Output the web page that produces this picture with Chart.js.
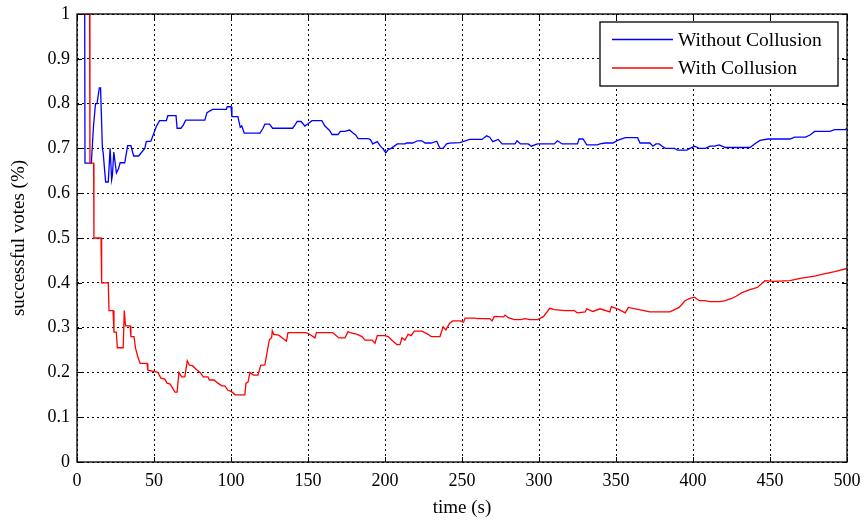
<!DOCTYPE html>
<html>
<head>
<meta charset="utf-8">
<script src="https://cdn.jsdelivr.net/npm/chart.js@4/dist/chart.umd.min.js"></script>
<style>
  html, body { margin: 0; padding: 0; background: #ffffff; }
  #wrap { width: 865px; height: 523px; }
</style>
</head>
<body>
<div id="wrap"><canvas id="c" width="865" height="523"></canvas></div>
<script>
const seriesNames = ['Without Collusion', 'With Collusion'];

const xTickLabels = ['0','50','100','150','200','250','300','350','400','450','500'];
const yTickLabels = ['0','0.1','0.2','0.3','0.4','0.5','0.6','0.7','0.8','0.9','1'];

const blueTime = [3,5.0,5.2,9.3,10.7,12,13,14.5,15.3,16.5,17,18.6,20.3,21.5,22.5,23,23.9,25.6,27,28,31,32.9,35,36.8,40,44,45,48,51.5,53.6,58,59,64.3,65,67.5,69,70.6,83,84.4,88,97,97.5,100,100.6,104.5,106,107,108.6,118.8,120.8,122,125,127,140,141.5,143,145.5,148,150,152.6,159,161,164,165.6,169.5,171,174,177,179,181,182.5,189,190.5,192,195,197,199,200.5,202,204,208,213,214,218,221,224,226,230,233.6,235.7,237.7,240,242,248.7,255,263,266,268,270,273.5,276,284.5,285.7,288,293,295,299,310,312,315,325,326,328.6,331,338,339.6,343,348,351,356,364,365.6,372,374,376,378,380,382,388,390,396,398,401,404,408,411,414,417,421,437,440,443.5,448.7,463,466,473,476,479,489,492,499,500];
const blueValue = [1,1,0.667,0.667,0.749,0.8,0.8,0.835,0.835,0.70,0.69,0.625,0.625,0.70,0.63,0.64,0.692,0.645,0.655,0.668,0.668,0.706,0.706,0.683,0.683,0.70,0.715,0.716,0.749,0.762,0.762,0.773,0.773,0.745,0.745,0.752,0.763,0.763,0.78,0.787,0.787,0.793,0.793,0.771,0.771,0.747,0.75,0.734,0.734,0.745,0.754,0.754,0.745,0.745,0.752,0.76,0.76,0.75,0.755,0.762,0.762,0.75,0.74,0.731,0.731,0.738,0.738,0.741,0.735,0.73,0.722,0.722,0.72,0.71,0.715,0.705,0.698,0.69,0.697,0.70,0.71,0.71,0.712,0.712,0.717,0.717,0.712,0.712,0.716,0.70,0.70,0.71,0.712,0.713,0.72,0.72,0.728,0.725,0.715,0.72,0.71,0.71,0.717,0.71,0.71,0.705,0.71,0.71,0.717,0.71,0.71,0.721,0.721,0.708,0.708,0.71,0.712,0.712,0.718,0.724,0.724,0.712,0.712,0.705,0.71,0.71,0.705,0.70,0.70,0.696,0.696,0.70,0.705,0.70,0.70,0.705,0.705,0.708,0.702,0.702,0.71,0.718,0.721,0.721,0.725,0.725,0.73,0.738,0.738,0.742,0.742,0.745];

const redTime = [3,8.2,8.4,10.8,11,15.6,16,20.3,20.8,23.4,24,25.5,26.2,30,30.7,31.5,34.5,35,37,38,39.5,41,45.5,46,52.6,54.5,57,58.5,60.5,61.7,63.6,65,66.2,68,70,71.6,73,75,77.7,79.9,82,85,86,89,91.5,94,96,98,100.4,102.6,109,109.7,111,112.3,114.5,117.5,119.3,122,124.9,126.4,126.8,127.7,131,134,136,137,148.7,151,154.5,155.5,166,168,170,174,176,178,182,185,187,191.6,193.5,195,200,202,204.5,207.8,209.7,211,213,215,217,219,224,228,230,235.7,237.7,239.5,242,244,249,251,252,258,260,268,269.5,271,277,278,280,284,288,291,294,299,300.5,303,307,310,317,323,324.7,330,331,335,339.6,346,347,352,356,358,365,372,385,388,391,394.8,398,401,404,407.8,411,417.5,421,425,428,431.8,437,442,446.8,452,463,469.5,479,485,492,500];
const redValue = [1,1,0.667,0.667,0.5,0.5,0.4,0.4,0.338,0.338,0.29,0.29,0.255,0.255,0.338,0.304,0.304,0.28,0.28,0.254,0.235,0.22,0.22,0.205,0.2,0.187,0.185,0.176,0.174,0.167,0.156,0.156,0.2,0.19,0.19,0.226,0.216,0.215,0.206,0.2,0.19,0.19,0.183,0.183,0.176,0.17,0.17,0.16,0.157,0.15,0.15,0.176,0.178,0.2,0.194,0.194,0.216,0.217,0.273,0.278,0.293,0.285,0.283,0.275,0.27,0.289,0.289,0.285,0.277,0.289,0.289,0.283,0.277,0.277,0.291,0.288,0.285,0.28,0.272,0.272,0.265,0.282,0.282,0.28,0.272,0.262,0.262,0.277,0.272,0.285,0.282,0.292,0.292,0.285,0.28,0.28,0.302,0.295,0.31,0.315,0.315,0.312,0.321,0.321,0.32,0.32,0.315,0.325,0.324,0.328,0.322,0.318,0.318,0.32,0.318,0.318,0.32,0.325,0.343,0.34,0.338,0.338,0.333,0.335,0.342,0.336,0.342,0.335,0.347,0.34,0.333,0.345,0.34,0.335,0.335,0.34,0.345,0.36,0.365,0.368,0.36,0.36,0.358,0.358,0.36,0.365,0.37,0.378,0.385,0.39,0.405,0.403,0.405,0.41,0.415,0.42,0.425,0.432];

const FONT = 'Liberation Serif, Times New Roman, serif';

function toPoints(ts, vs) { return ts.map((t, i) => ({ x: t, y: vs[i] })); }

const framePlugin = {
  id: 'frame',
  afterDatasetsDraw(chart) {
    const { ctx, chartArea: a, scales } = chart;
    ctx.save();
    ctx.strokeStyle = '#000';
    ctx.lineWidth = 1.3;
    ctx.setLineDash([]);
    ctx.strokeRect(a.left, a.top, a.right - a.left, a.bottom - a.top);
    const tl = 5;
    ctx.lineWidth = 1;
    ctx.beginPath();
    scales.x.ticks.forEach(tk => {
      const px = Math.round(scales.x.getPixelForValue(tk.value)) + 0.5;
      ctx.moveTo(px, a.bottom); ctx.lineTo(px, a.bottom - tl);
      ctx.moveTo(px, a.top); ctx.lineTo(px, a.top + tl);
    });
    scales.y.ticks.forEach(tk => {
      const py = Math.round(scales.y.getPixelForValue(tk.value)) + 0.5;
      ctx.moveTo(a.left, py); ctx.lineTo(a.left + tl, py);
      ctx.moveTo(a.right, py); ctx.lineTo(a.right - tl, py);
    });
    ctx.stroke();

    const w = 238, h = 64;
    const bx = a.right - 9 - w, by = a.top + 8;
    ctx.fillStyle = '#fff';
    ctx.fillRect(bx, by, w, h);
    ctx.lineWidth = 1.3;
    ctx.strokeStyle = '#000';
    ctx.strokeRect(bx, by, w, h);
    ctx.font = '19.5px ' + FONT;
    ctx.textBaseline = 'middle';
    ctx.textAlign = 'left';
    chart.data.datasets.forEach((ds, i) => {
      const ly = by + 17.5 + i * 28.5;
      ctx.strokeStyle = ds.borderColor;
      ctx.lineWidth = 1.3;
      ctx.beginPath();
      ctx.moveTo(bx + 12, ly); ctx.lineTo(bx + 73, ly);
      ctx.stroke();
      ctx.fillStyle = '#000';
      ctx.fillText(ds.label, bx + 78, ly + 1);
    });
    ctx.restore();
  }
};

new Chart(document.getElementById('c'), {
  type: 'line',
  data: {
    datasets: [
      { label: seriesNames[0], data: toPoints(blueTime, blueValue), borderColor: '#0000ff', borderWidth: 1.3, pointRadius: 0, tension: 0, fill: false, order: 2 },
      { label: seriesNames[1], data: toPoints(redTime, redValue), borderColor: '#ff0000', borderWidth: 1.3, pointRadius: 0, tension: 0, fill: false, order: 1 }
    ]
  },
  options: {
    responsive: false,
    animation: false,
    devicePixelRatio: 1,
    layout: { padding: { left: 0, right: 18, top: 14, bottom: 0 } },
    plugins: { legend: { display: false }, tooltip: { enabled: false } },
    scales: {
      x: {
        type: 'linear', min: 0, max: 500,
        afterBuildTicks(s) { s.ticks = xTickLabels.map(v => ({ value: Number(v) })); },
        afterFit(s) { s.height = 61; s.paddingLeft = 0; s.paddingRight = 0; },
        ticks: { color: '#000', font: { family: FONT, size: 18 }, padding: 8, maxRotation: 0,
                 callback: (v) => xTickLabels[xTickLabels.indexOf(String(v))] },
        grid: { color: '#000', lineWidth: 1, drawTicks: false },
        border: { display: false, dash: [2, 3] },
        title: { display: true, text: 'time (s)', color: '#000', font: { family: FONT, size: 19 }, padding: { top: 0, bottom: 4 } }
      },
      y: {
        type: 'linear', min: 0, max: 1,
        afterBuildTicks(s) { s.ticks = yTickLabels.map(v => ({ value: Number(v) })); },
        afterFit(s) { s.width = 77; s.paddingTop = 0; s.paddingBottom = 0; },
        ticks: { color: '#000', font: { family: FONT, size: 18 }, padding: 7,
                 callback: (v, i) => yTickLabels[i] },
        grid: { color: '#000', lineWidth: 1, drawTicks: false },
        border: { display: false, dash: [2, 3] },
        title: { display: true, text: 'successful votes (%)', color: '#000', font: { family: FONT, size: 19 }, padding: { top: 8, bottom: 0 } }
      }
    }
  },
  plugins: [framePlugin]
});
</script>
</body>
</html>
